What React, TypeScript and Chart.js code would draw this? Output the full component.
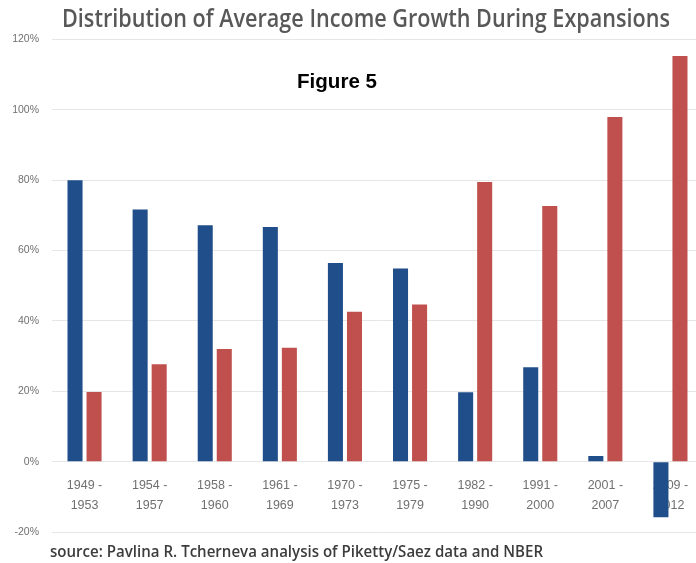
import React, { useEffect, useRef } from "react";
import { Chart, registerables } from "chart.js";

Chart.register(...registerables);

// ---- data ----
const categories: string[][] = [
  ["1949 -", "1953"],
  ["1954 -", "1957"],
  ["1958 -", "1960"],
  ["1961 -", "1969"],
  ["1970 -", "1973"],
  ["1975 -", "1979"],
  ["1982 -", "1990"],
  ["1991 -", "2000"],
  ["2001 -", "2007"],
  ["2009 -", "2012"],
];
const bottom90: number[] = [80, 71.7, 67.2, 66.7, 56.5, 54.9, 19.7, 26.8, 1.6, -15.8];
const top10: number[] = [19.8, 27.7, 32, 32.4, 42.6, 44.7, 79.5, 72.7, 98, 115.3];
const yMin = -20;
const yMax = 120;
const yStep = 20;

const titleText = "Distribution of Average Income Growth During Expansions";
const figureText = "Figure 5";
const sourceText = "source: Pavlina R. Tcherneva analysis of Piketty/Saez data and NBER";

function fitText(
  ctx: CanvasRenderingContext2D,
  text: string,
  font: string,
  color: string,
  x: number,
  baseline: number,
  width: number
) {
  ctx.save();
  ctx.font = font;
  ctx.fillStyle = color;
  ctx.textAlign = "left";
  ctx.textBaseline = "alphabetic";
  const w = ctx.measureText(text).width;
  const s = width / w;
  ctx.translate(x, baseline);
  ctx.scale(s, 1);
  ctx.fillText(text, 0, 0);
  ctx.restore();
}

const textPlugin = {
  id: "staticTexts",
  afterDraw(chart: any) {
    const ctx = chart.ctx as CanvasRenderingContext2D;
    fitText(ctx, titleText, "600 26px 'Open Sans'", "#585858", 62, 27, 608);
    fitText(ctx, figureText, "bold 20px 'Liberation Sans'", "#000000", 297, 88, 80);
    fitText(ctx, sourceText, "600 17px 'Open Sans'", "#3c3c3c", 50, 557, 493);
  },
};

export default function App() {
  const ref = useRef<HTMLCanvasElement | null>(null);

  useEffect(() => {
    if (!ref.current) return;
    const chart = new Chart(ref.current, {
      type: "bar",
      data: {
        labels: categories,
        datasets: [
          {
            label: "Bottom 90%",
            data: bottom90,
            backgroundColor: "#1F4E8A",
            categoryPercentage: 0.585,
            barPercentage: 0.79,
          },
          {
            label: "Top 10%",
            data: top10,
            backgroundColor: "#C0504D",
            categoryPercentage: 0.585,
            barPercentage: 0.79,
          },
        ],
      },
      options: {
        responsive: false,
        animation: false,
        devicePixelRatio: 1,
        layout: { padding: { top: 39.5, bottom: 31, left: 0, right: 17 } },
        plugins: {
          legend: { display: false },
          title: { display: false },
          tooltip: { enabled: false },
        },
        scales: {
          x: {
            position: { y: 0 } as any,
            grid: { display: false, drawTicks: false },
            border: { display: false },
            ticks: {
              color: "#707070",
              font: { family: "'Liberation Sans'", size: 12.5, lineHeight: 1.6 },
              padding: 14,
              maxRotation: 0,
              autoSkip: false,
            },
          },
          y: {
            min: yMin,
            max: yMax,
            afterFit: (scale: any) => {
              scale.width = 52;
            },
            grid: { color: "#e6e6e6", lineWidth: 1, drawTicks: false },
            border: { display: false },
            ticks: {
              stepSize: yStep,
              color: "#707070",
              font: { family: "'Liberation Sans'", size: 10.5 },
              padding: 13,
              callback: (v: any) => v + "%",
            },
          },
        },
      },
      plugins: [textPlugin],
    });
    return () => chart.destroy();
  }, []);

  return (
    <div
      style={{
        position: "fixed",
        left: 0,
        top: 0,
        width: 696,
        height: 563,
        overflow: "hidden",
        background: "#ffffff",
      }}
    >
      <canvas
        ref={ref}
        width={720}
        height={563}
        style={{ position: "absolute", left: 0, top: 0, width: 720, height: 563 }}
      />
    </div>
  );
}
